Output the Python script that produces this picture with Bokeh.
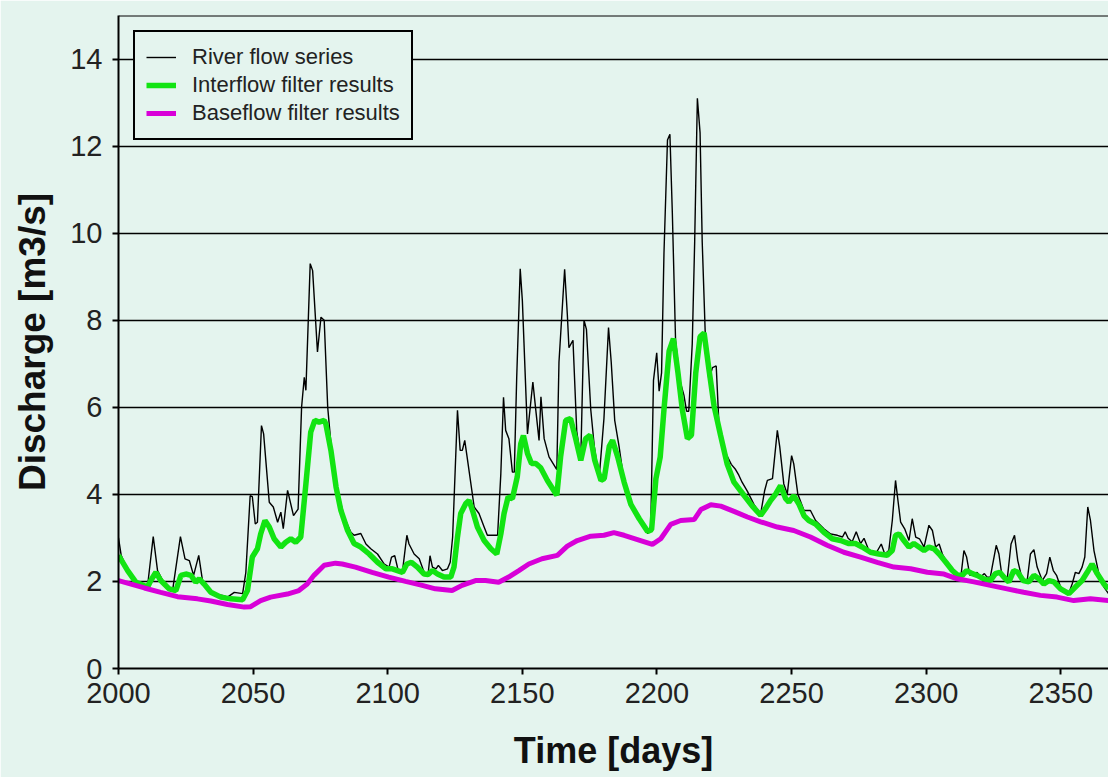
from bokeh.plotting import figure
from bokeh.models import FixedTicker, Span, Legend, LegendItem
from bokeh.embed import file_html
from bokeh.resources import INLINE

# ---------------- data ----------------
river_day = [2000.0, 2001.0, 2003.4, 2006.5, 2010.8, 2012.9, 2014.5, 2017.6, 2020.1, 2023.0,
             2024.7, 2026.3, 2027.9, 2029.8, 2031.2, 2034.3, 2038.7, 2040.5, 2043.0, 2046.1,
             2047.3, 2048.9, 2049.7, 2050.8, 2051.6, 2053.1, 2053.9, 2056.0, 2057.5, 2059.1,
             2060.3, 2061.2, 2062.8, 2065.0, 2066.7, 2068.0, 2069.0, 2069.6, 2071.2, 2072.1,
             2073.9, 2075.2, 2076.4, 2077.7, 2078.9, 2081.4, 2083.8, 2086.3, 2087.5, 2090.0,
             2091.9, 2093.7, 2096.2, 2098.7, 2100.5, 2101.4, 2102.6, 2103.9, 2105.5, 2107.1,
             2107.9, 2109.8, 2111.7, 2113.5, 2115.0, 2115.7, 2116.6, 2117.9, 2118.8, 2120.3,
             2122.2, 2123.2, 2124.1, 2125.9, 2126.9, 2127.7, 2128.6, 2129.5, 2132.1, 2133.9,
             2135.8, 2137.0, 2140.8, 2142.0, 2143.0, 2143.8, 2145.0, 2146.3, 2147.0, 2147.9,
             2149.2, 2150.0, 2151.9, 2153.9, 2155.0, 2156.2, 2156.9, 2158.1, 2159.9, 2162.8,
             2163.6, 2165.7, 2166.7, 2167.3, 2168.8, 2170.2, 2171.7, 2172.9, 2173.8, 2175.4,
             2176.7, 2178.5, 2180.3, 2182.0, 2183.0, 2184.3, 2185.9, 2188.4, 2190.9, 2193.9,
             2196.6, 2197.7, 2198.7, 2199.9, 2200.8, 2201.7, 2202.6, 2203.9, 2204.8, 2205.7,
             2206.9, 2208.5, 2210.0, 2211.0, 2211.8, 2213.1, 2214.0, 2215.0, 2216.0, 2216.8,
             2218.1, 2219.3, 2220.6, 2222.0, 2223.0, 2225.5, 2227.6, 2229.2, 2230.4, 2231.6,
             2233.6, 2236.0, 2238.5, 2240.0, 2241.0, 2242.9, 2244.7, 2245.6, 2247.1, 2248.4,
             2250.0, 2250.8, 2252.3, 2254.6, 2257.0, 2258.9, 2262.0, 2264.5, 2267.0, 2268.9,
             2269.9, 2271.0, 2272.5, 2274.0, 2275.6, 2276.9, 2278.7, 2281.2, 2283.3, 2284.6,
             2286.1, 2287.4, 2288.6, 2289.5, 2290.5, 2292.0, 2293.6, 2294.8, 2296.1, 2297.5,
             2299.2, 2301.0, 2302.3, 2303.5, 2304.8, 2306.0, 2309.0, 2311.5, 2313.0, 2314.0,
             2315.0, 2316.2, 2317.7, 2318.9, 2320.2, 2321.6, 2322.6, 2323.8, 2324.7, 2326.0,
             2327.0, 2328.2, 2330.1, 2331.5, 2332.8, 2334.0, 2335.6, 2337.5, 2338.7, 2340.0,
             2341.2, 2343.1, 2344.7, 2345.9, 2347.2, 2348.4, 2349.9, 2352.9, 2354.2, 2355.4,
             2356.7, 2357.9, 2358.9, 2360.0, 2361.0, 2362.3, 2364.1, 2366.0, 2367.7]
river_q = [3.0, 2.6, 2.25, 1.98, 1.9, 3.03, 2.25, 1.88, 1.8, 3.03,
           2.52, 2.48, 2.14, 2.6, 2.02, 1.72, 1.68, 1.64, 1.75, 1.72,
           2.21, 3.97, 3.95, 3.32, 3.36, 5.58, 5.39, 3.82, 3.71, 3.36,
           3.59, 3.21, 4.09, 3.51, 3.66, 6.0, 6.69, 6.39, 9.3, 9.14,
           7.27, 8.07, 8.0, 6.0, 5.17, 4.09, 3.48, 3.13, 3.06, 3.1,
           2.86, 2.75, 2.63, 2.4, 2.33, 2.56, 2.59, 2.25, 2.25, 3.06,
           2.86, 2.63, 2.52, 2.21, 2.17, 2.59, 2.33, 2.29, 2.37, 2.25,
           2.29, 2.44, 3.02, 5.93, 5.01, 5.01, 5.24, 4.85, 3.71, 3.56,
           3.25, 3.06, 3.06, 4.47, 6.23, 5.47, 5.28, 4.51, 4.51, 6.69,
           9.18, 8.45, 5.39, 6.58, 5.93, 5.24, 6.24, 5.28, 4.86, 4.57,
           7.04, 9.17, 8.13, 7.37, 7.54, 5.45, 4.82, 8.0, 7.79, 5.95,
           5.11, 4.36, 5.74, 7.83, 7.04, 5.7, 5.11, 4.03, 3.77, 3.36,
           3.1, 3.27, 6.62, 7.25, 6.37, 6.79, 9.55, 12.14, 12.27, 10.47,
           7.54, 6.62, 6.28, 5.91, 5.91, 7.46, 9.8, 13.1, 12.31, 9.8,
           7.37, 6.62, 6.91, 6.95, 5.62, 4.95, 4.69, 4.57, 4.44, 4.28,
           4.07, 3.77, 3.55, 4.09, 4.32, 4.36, 5.47, 5.09, 4.24, 4.01,
           4.89, 4.7, 4.01, 3.63, 3.63, 3.4, 3.21, 3.09, 3.06, 3.02,
           3.14, 2.99, 2.91, 3.14, 2.87, 2.99, 2.71, 2.63, 2.86, 2.63,
           2.71, 3.4, 4.32, 3.86, 3.36, 3.21, 2.94, 3.44, 3.02, 2.98,
           2.79, 3.29, 3.17, 2.79, 2.86, 2.63, 2.29, 2.15, 2.18, 2.71,
           2.56, 2.14, 2.18, 2.21, 2.1, 2.18, 2.1, 2.1, 2.4, 2.83,
           2.63, 2.1, 2.06, 2.86, 3.06, 2.48, 2.06, 2.02, 2.63, 2.73,
           2.33, 2.02, 2.18, 2.56, 2.25, 2.14, 1.87, 1.72, 1.94, 2.21,
           2.18, 2.33, 2.56, 3.71, 3.4, 2.71, 2.18, 1.87, 1.72]

inter_day = [2000.0, 2003.4, 2006.5, 2010.8, 2012.0, 2013.9, 2015.7, 2018.8, 2021.3, 2023.2,
             2025.0, 2026.9, 2028.7, 2030.0, 2031.8, 2034.3, 2038.0, 2041.7, 2046.1, 2047.9,
             2049.7, 2051.6, 2052.8, 2054.4, 2056.0, 2057.8, 2060.3, 2062.1, 2064.0, 2065.8,
             2067.7, 2069.6, 2071.4, 2072.9, 2074.5, 2076.4, 2077.0, 2078.9, 2080.8, 2082.6,
             2085.1, 2087.5, 2090.0, 2093.1, 2096.2, 2099.3, 2101.7, 2103.6, 2105.5, 2107.1,
             2108.8, 2111.0, 2113.5, 2115.0, 2116.6, 2118.5, 2120.9, 2123.4, 2124.6, 2125.9,
             2127.1, 2129.0, 2130.2, 2131.5, 2133.3, 2135.8, 2138.3, 2140.5, 2142.0, 2143.2,
             2144.7, 2146.3, 2148.1, 2149.4, 2150.4, 2151.9, 2153.4, 2155.0, 2156.8, 2159.3,
             2162.8, 2164.2, 2166.1, 2167.9, 2169.8, 2171.7, 2173.5, 2175.2, 2176.9, 2179.2,
             2180.4, 2182.3, 2183.5, 2185.4, 2187.8, 2190.3, 2193.4, 2196.5, 2198.0, 2199.6,
             2201.2, 2202.6, 2204.5, 2206.1, 2207.8, 2209.4, 2211.3, 2212.8, 2214.4, 2216.0,
             2217.5, 2219.3, 2221.2, 2223.6, 2226.1, 2228.6, 2232.3, 2235.4, 2238.5, 2240.3,
             2242.2, 2244.1, 2245.9, 2247.8, 2249.0, 2250.8, 2252.7, 2254.6, 2256.4, 2258.9,
             2262.0, 2265.1, 2268.2, 2271.3, 2273.7, 2276.2, 2279.3, 2282.4, 2285.5, 2287.4,
             2288.6, 2289.9, 2291.7, 2293.6, 2295.4, 2297.3, 2299.2, 2301.0, 2302.9, 2304.8,
             2307.3, 2309.7, 2311.5, 2313.4, 2315.0, 2317.1, 2318.9, 2321.4, 2323.8, 2325.7,
             2327.3, 2328.8, 2330.7, 2332.5, 2334.0, 2336.0, 2338.1, 2340.0, 2341.8, 2343.7,
             2345.6, 2347.4, 2349.9, 2353.0, 2355.4, 2357.9, 2359.8, 2361.6, 2363.5, 2366.0,
             2367.7]
inter_q = [2.6, 2.25, 1.98, 1.87, 2.02, 2.21, 2.02, 1.83, 1.79, 2.14,
           2.17, 2.14, 1.98, 2.06, 1.94, 1.75, 1.64, 1.6, 1.58, 1.79,
           2.56, 2.75, 3.09, 3.4, 3.25, 2.98, 2.79, 2.9, 2.98, 2.9,
           3.02, 4.24, 5.43, 5.7, 5.66, 5.7, 5.62, 5.01, 4.17, 3.63,
           3.17, 2.87, 2.79, 2.63, 2.44, 2.29, 2.29, 2.25, 2.21, 2.4,
           2.44, 2.33, 2.17, 2.16, 2.25, 2.17, 2.1, 2.1, 2.33, 3.02,
           3.56, 3.79, 3.86, 3.63, 3.25, 2.94, 2.75, 2.63, 3.09, 3.56,
           3.94, 3.9, 4.4, 5.16, 5.35, 4.94, 4.71, 4.71, 4.61, 4.32,
           3.98, 4.86, 5.7, 5.74, 5.28, 4.78, 5.28, 5.36, 4.78, 4.32,
           4.36, 5.11, 5.24, 4.86, 4.28, 3.77, 3.44, 3.15, 3.19, 4.36,
           4.86, 5.95, 7.29, 7.58, 6.79, 5.95, 5.28, 5.36, 6.79, 7.62,
           7.71, 6.87, 6.03, 5.36, 4.69, 4.28, 3.98, 3.73, 3.52, 3.67,
           3.86, 4.01, 4.2, 3.9, 3.82, 3.97, 3.78, 3.51, 3.4, 3.32,
           3.13, 2.98, 2.94, 2.87, 2.87, 2.79, 2.67, 2.63, 2.6, 2.71,
           3.06, 3.09, 2.94, 2.79, 2.87, 2.79, 2.71, 2.79, 2.75, 2.63,
           2.44, 2.25, 2.15, 2.14, 2.25, 2.18, 2.14, 2.06, 2.02, 2.18,
           2.21, 2.1, 1.99, 2.25, 2.21, 2.02, 1.99, 2.14, 2.06, 1.94,
           2.02, 1.99, 1.83, 1.72, 1.87, 2.02, 2.21, 2.4, 2.18, 1.94,
           1.83]

base_day = [2000.0, 2009.6, 2015.7, 2021.9, 2029.3, 2034.3, 2040.5, 2046.7, 2049.1, 2052.8,
            2056.5, 2062.7, 2067.0, 2070.1, 2072.6, 2076.4, 2080.6, 2083.1, 2088.0, 2094.2,
            2100.4, 2106.6, 2112.8, 2117.7, 2123.9, 2127.6, 2132.6, 2136.3, 2141.2, 2144.9,
            2148.7, 2152.4, 2157.3, 2163.0, 2166.7, 2170.4, 2175.4, 2180.3, 2184.0, 2187.8,
            2193.9, 2198.3, 2201.4, 2205.1, 2208.8, 2213.8, 2216.3, 2220.0, 2223.7, 2228.6,
            2233.6, 2238.5, 2244.7, 2250.8, 2257.0, 2263.2, 2269.4, 2275.6, 2281.8, 2288.0,
            2294.2, 2300.4, 2306.6, 2311.5, 2317.7, 2323.8, 2330.0, 2336.2, 2342.4, 2348.6,
            2354.8, 2361.0, 2367.7]
base_q = [2.02, 1.85, 1.75, 1.65, 1.6, 1.55, 1.47, 1.41, 1.42, 1.56,
          1.64, 1.71, 1.79, 1.94, 2.14, 2.37, 2.42, 2.4, 2.33, 2.21,
          2.1, 2.0, 1.91, 1.83, 1.79, 1.91, 2.02, 2.02, 1.98, 2.1,
          2.25, 2.4, 2.52, 2.6, 2.81, 2.94, 3.04, 3.06, 3.12, 3.06,
          2.94, 2.85, 2.98, 3.31, 3.4, 3.42, 3.65, 3.76, 3.73, 3.61,
          3.48, 3.37, 3.25, 3.17, 3.02, 2.83, 2.67, 2.56, 2.44, 2.33,
          2.29, 2.21, 2.17, 2.06, 1.99, 1.91, 1.83, 1.75, 1.68, 1.64,
          1.56, 1.6, 1.56]

x_ticks = [2000, 2050, 2100, 2150, 2200, 2250, 2300, 2350]
y_ticks = [0, 2, 4, 6, 8, 10, 12, 14]
series_labels = ["River flow series", "Interflow filter results", "Baseflow filter results"]

# ---------------- styling ----------------
BG = "#e4f4ee"
FONT = "Liberation Sans"

p = figure(width=1108, height=777, output_backend="svg", toolbar_location=None,
           x_range=(2000, 2367.7), y_range=(0, 15),
           min_border_left=118, min_border_right=0, min_border_top=15, min_border_bottom=109)
p.background_fill_color = BG
p.border_fill_color = BG
p.outline_line_color = None

p.xgrid.visible = False
p.ygrid.ticker = FixedTicker(ticks=y_ticks)
p.ygrid.grid_line_color = "black"
p.ygrid.grid_line_width = 1.3

p.xaxis.ticker = FixedTicker(ticks=x_ticks)
p.yaxis.ticker = FixedTicker(ticks=y_ticks)
for ax in (p.xaxis[0], p.yaxis[0]):
    ax.axis_line_color = "black"
    ax.axis_line_width = 2
    ax.major_tick_line_color = "black"
    ax.major_tick_line_width = 2
    ax.major_tick_out = 6
    ax.major_tick_in = 0
    ax.minor_tick_line_color = None
    ax.major_label_text_font = FONT
    ax.major_label_text_font_size = "29px"
    ax.major_label_text_color = "#222222"
    ax.axis_label_text_font = FONT
    ax.axis_label_text_font_style = "bold"
    ax.axis_label_text_color = "#111111"

p.xaxis.axis_label = "Time [days]"
p.yaxis.axis_label = "Discharge [m3/s]"
p.xaxis.axis_label_text_font_size = "36px"
p.yaxis.axis_label_text_font_size = "37px"
p.xaxis.major_label_standoff = 8
p.yaxis.major_label_standoff = 10
p.xaxis.axis_label_standoff = 24
p.yaxis.axis_label_standoff = 14

# top border of the plot frame
p.add_layout(Span(location=15, dimension="width", line_color="black", line_width=2))

r_river = p.line(river_day, river_q, line_color="black", line_width=1.4)
r_inter = p.line(inter_day, inter_q, line_color="#12e412", line_width=5.5)
r_base = p.line(base_day, base_q, line_color="#d800d8", line_width=5)

legend = Legend(items=[LegendItem(label=series_labels[0], renderers=[r_river]),
                       LegendItem(label=series_labels[1], renderers=[r_inter]),
                       LegendItem(label=series_labels[2], renderers=[r_base])],
                location="top_left")
legend.margin = 15
legend.padding = 11
legend.spacing = 0
legend.label_height = 28
legend.glyph_height = 28
legend.glyph_width = 30
legend.label_standoff = 16
legend.label_text_font = FONT
legend.label_text_font_size = "22px"
legend.label_text_color = "#222222"
legend.border_line_color = "black"
legend.border_line_width = 2.5
legend.border_line_alpha = 1
legend.background_fill_color = BG
legend.background_fill_alpha = 1
p.add_layout(legend)

open("out.html", "w").write(file_html(p, INLINE))
